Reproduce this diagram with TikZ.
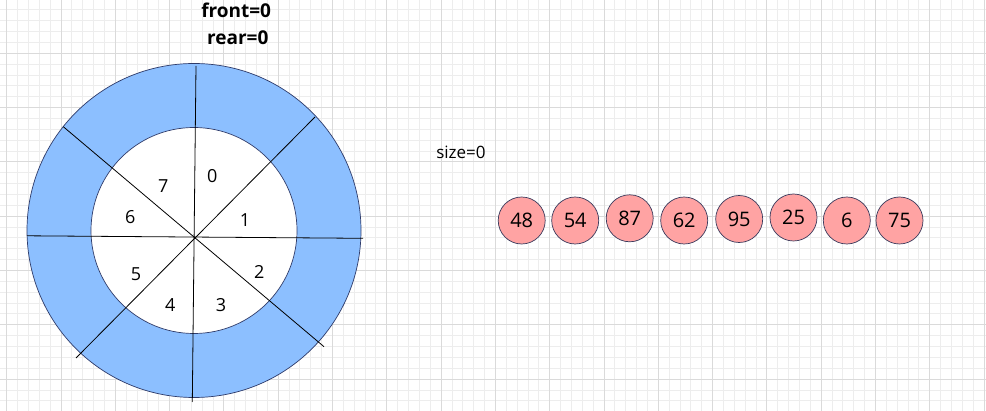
\documentclass[tikz,border=0pt]{standalone}
\usepackage{fontspec}
\setmainfont{Open Sans}
\definecolor{ringblue}{HTML}{8CBFFF}
\definecolor{ballpink}{HTML}{FFA3A3}
\definecolor{balledge}{HTML}{3A3A5C}
\definecolor{ringedge}{HTML}{2E3B6A}
\definecolor{minorgrid}{HTML}{EDEDED}
\definecolor{majorgrid}{HTML}{DADADA}
\tikzset{
  minorline/.style={draw=minorgrid, line width=0.9pt},
  majorline/.style={draw=majorgrid, line width=0.9pt},
  spoke/.style={draw=black, line width=0.8pt},
  ball/.style={circle, draw=balledge, fill=ballpink, line width=0.7pt, minimum size=47pt, inner sep=0pt, font=\fontsize{20}{20}\selectfont},
  slotlabel/.style={anchor=base, inner sep=0pt, font=\fontsize{18}{18}\selectfont},
  headlabel/.style={anchor=base, inner sep=0pt, font=\fontsize{19}{19}\selectfont\bfseries},
}
\begin{document}
\begin{tikzpicture}[x=1pt,y=-1pt]
\useasboundingbox (0,0) rectangle (986,411);
\fill[white] (0,0) rectangle (986,411);
% grid
\foreach \k in {0,...,91}{
  \pgfmathsetmacro{\xx}{-4.16+10.86*\k}
  \pgfmathtruncatemacro{\m}{mod(\k,5)}
  \ifnum\m=1 \else \draw[minorline] (\xx,0) -- (\xx,411); \fi
}
\foreach \k in {0,...,38}{
  \pgfmathsetmacro{\yy}{-1+10.86*\k}
  \pgfmathtruncatemacro{\m}{mod(\k,5)}
  \ifnum\m=0 \else \draw[minorline] (0,\yy) -- (986,\yy); \fi
}
\foreach \k in {0,...,18}{
  \pgfmathsetmacro{\xx}{6.7+54.3*\k}
  \draw[majorline] (\xx,0) -- (\xx,411);
}
\foreach \k in {0,...,8}{
  \pgfmathsetmacro{\yy}{-1+54.3*\k}
  \draw[majorline] (0,\yy) -- (986,\yy);
}
% ring
\coordinate (ringc) at (194,230.5);
\fill[ringblue, draw=ringedge, line width=0.7pt] (ringc) circle (167);
\fill[white, draw=ringedge, line width=0.7pt] (ringc) circle (103);
% spokes
\coordinate (vt) at (196,66);
\coordinate (vb) at (192.3,402);
\coordinate (hl) at (27,235.8);
\coordinate (hr) at (363,238.3);
\coordinate (d1a) at (63.3,126.7);
\coordinate (d1b) at (324,346.7);
\coordinate (d2a) at (315,117);
\coordinate (d2b) at (76,358);
\draw[spoke] (vt) -- (vb);
\draw[spoke] (hl) -- (hr);
\draw[spoke] (d1a) -- (d1b);
\draw[spoke] (d2a) -- (d2b);
% slot labels
\node[slotlabel] (s0) at (212.3,182.6) {0};
\node[slotlabel] (s1) at (245,226.6) {1};
\node[slotlabel] (s2) at (259.3,278.3) {2};
\node[slotlabel] (s3) at (221,311.6) {3};
\node[slotlabel] (s4) at (170.3,311.6) {4};
\node[slotlabel] (s5) at (136,280.6) {5};
\node[slotlabel] (s6) at (130.3,223.9) {6};
\node[slotlabel] (s7) at (163.3,192.6) {7};
% heading
\node[headlabel] (front) at (236.2,17.3) {front=0};
\node[headlabel] (rear) at (237.8,45) {rear=0};
\node[anchor=base, inner sep=0pt, font=\fontsize{17}{17}\selectfont] (size) at (461,158.3) {size=0};
% balls
\node[ball] (b1) at (521.7,220.5) {48};
\node[ball] (b2) at (575.2,220.5) {54};
\node[ball] (b3) at (629.7,218.3) {87};
\node[ball] (b4) at (684.2,220.5) {62};
\node[ball] (b5) at (739.2,219) {95};
\node[ball] (b6) at (793.5,217.5) {25};
\node[ball] (b7) at (846.8,220.5) {6};
\node[ball] (b8) at (899.5,220.5) {75};
\end{tikzpicture}
\end{document}
